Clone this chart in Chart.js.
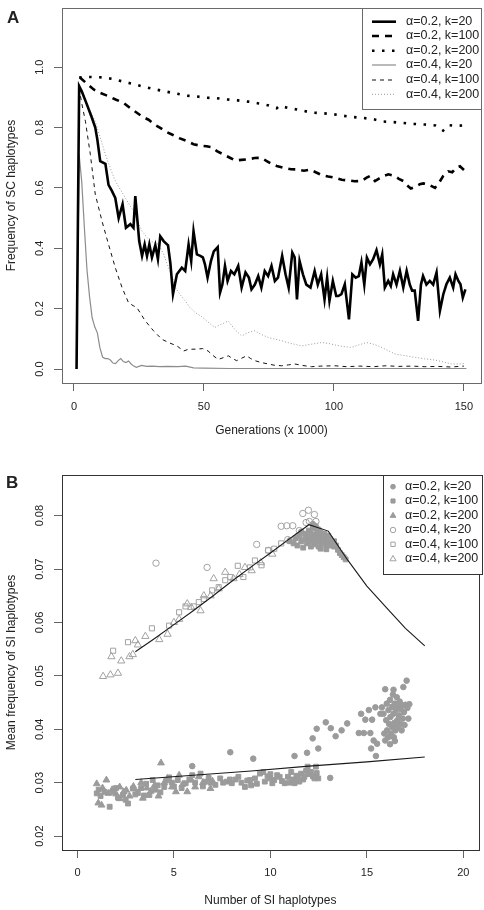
<!DOCTYPE html>
<html>
<head>
<meta charset="utf-8">
<script src="https://cdn.jsdelivr.net/npm/chart.js@4.4.1/dist/chart.umd.min.js"></script>
<style>
  body { margin: 0; background: #fff; }
  canvas { display: block; }
</style>
</head>
<body>
<canvas id="panelA" width="484" height="455"></canvas>
<canvas id="panelB" width="484" height="455"></canvas>
<script>
// ---- Panel A: frequency of SC haplotypes over generations (x 1000) ----
const gen02k20 = [1,2,3,5,7,8.2,9,10.1,12.1,13.3,14.6,15.9,17.2,18.7,20,21.7,22.9,23.6,25.1,26.2,27.2,28.1,29,30,31.3,32.3,33.2,34.5,36.2,37.1,38.1,39.6,41.5,42.8,44.1,45.1,46,47.3,48.6,49.6,50.4,51.4,52.7,53.8,55.3,56.2,57.1,58.1,59.1,60.4,61.7,63.2,64.5,66,67.3,68.3,69.6,70.9,72.1,73.4,74.7,76,77.3,78.5,80.1,81.4,82.6,84,84.9,85.8,86.8,88.1,89.4,91,92.6,93.8,95.1,96.4,97.4,98.3,99.6,100.9,101.7,102.9,104.2,105.8,107.1,108.4,109.6,110.6,111.7,112.7,113.9,115.1,116.4,117.7,118.6,119.6,120.9,121.9,122.8,124.1,125.4,126.7,128,129.2,130.1,131.1,132.4,133.5,134.3,135.6,136.9,138.2,139.5,140.8,142.1,143.3,144.6,145.9,146.8,147.9,148.7,149.6,150.6];
const freq02k20 = [0,0.937,0.92,0.876,0.83,0.80,0.76,0.689,0.68,0.61,0.59,0.567,0.50,0.546,0.468,0.48,0.468,0.573,0.424,0.375,0.413,0.375,0.413,0.37,0.41,0.364,0.44,0.424,0.41,0.35,0.248,0.314,0.336,0.325,0.413,0.358,0.457,0.38,0.375,0.37,0.347,0.303,0.358,0.39,0.404,0.253,0.28,0.342,0.292,0.325,0.314,0.342,0.27,0.32,0.303,0.264,0.28,0.308,0.27,0.325,0.308,0.342,0.292,0.303,0.375,0.314,0.27,0.386,0.37,0.231,0.358,0.314,0.28,0.27,0.325,0.28,0.314,0.231,0.303,0.226,0.292,0.242,0.242,0.248,0.281,0.165,0.314,0.303,0.308,0.353,0.28,0.369,0.347,0.364,0.394,0.347,0.38,0.27,0.292,0.275,0.314,0.28,0.325,0.27,0.325,0.28,0.26,0.26,0.16,0.28,0.308,0.28,0.292,0.28,0.32,0.193,0.248,0.281,0.303,0.27,0.314,0.292,0.281,0.237,0.264];

const gen02k100 = [2.3,5,7.6,10,13.3,16,19.1,22,24.2,26.5,28.7,31,33.2,35.5,37.7,40.5,43.5,46,48.5,51,53,55,57.5,60,62,64.5,67.1,69.5,72.1,74,76,78,80.6,83.5,86.3,88.5,90.8,93,95.3,97.8,100.4,103,105.5,108,110.6,112.6,114,115.8,117.5,119,121,123.5,125,126.7,128,129.6,131,133,134.4,136.5,138.9,140.5,142.1,144,145.5,147.2,148.5,150.2];
const freq02k100 = [0.966,0.945,0.926,0.915,0.904,0.893,0.882,0.862,0.849,0.835,0.826,0.81,0.799,0.786,0.777,0.765,0.755,0.745,0.740,0.738,0.735,0.722,0.711,0.700,0.691,0.693,0.695,0.699,0.700,0.690,0.680,0.673,0.667,0.662,0.661,0.657,0.661,0.652,0.643,0.638,0.634,0.627,0.625,0.622,0.623,0.634,0.640,0.623,0.632,0.639,0.645,0.639,0.630,0.623,0.610,0.598,0.603,0.612,0.615,0.611,0.600,0.618,0.640,0.655,0.652,0.668,0.672,0.658];

const gen02k200 = [2,5,8,11,15,19,23,27,31,35,39,43,47,51,55,59,63,67,71,75,78,79,83,87,91,95,99,103,107,111,115,119,123,127,131,135,139,142,144,147,150];
const freq02k200 = [0.966,0.968,0.967,0.966,0.961,0.952,0.944,0.935,0.927,0.920,0.913,0.906,0.903,0.899,0.897,0.893,0.890,0.886,0.880,0.873,0.864,0.872,0.864,0.858,0.850,0.848,0.845,0.840,0.835,0.832,0.828,0.820,0.818,0.815,0.812,0.810,0.807,0.790,0.808,0.806,0.807];

const gen04k20 = [1,2,3,4,5,6,7,8,9,10,11,12,13,14,15,16,17,18,19,20,21,22,23,24,26,28,30,33,36,40,43,46,50,60,80,100,151];
const freq04k20 = [0,0.71,0.62,0.47,0.33,0.24,0.17,0.14,0.12,0.07,0.04,0.035,0.035,0.03,0.02,0.018,0.028,0.035,0.025,0.022,0.027,0.017,0.01,0.006,0.012,0.009,0.01,0.008,0.009,0.008,0.01,0.004,0.003,0.002,0.002,0.002,0.002];

const gen04k100 = [2,3,4.4,6.3,8.2,10.8,13.3,15.9,18.5,21,22.8,24.2,27.4,30.6,33.8,36.4,39.6,42.2,44.1,47.3,49.5,51.6,53.5,55.5,57.5,59.4,61,62.6,64.5,66.4,68,69.6,72,74.7,77,79.9,82.5,85,88,91.4,95,100.4,105,110,115,120,125,130,135,140,145,150];
const freq04k100 = [0.93,0.88,0.821,0.711,0.579,0.49,0.413,0.336,0.27,0.22,0.21,0.204,0.16,0.127,0.099,0.088,0.077,0.060,0.066,0.066,0.068,0.06,0.045,0.032,0.038,0.044,0.035,0.028,0.036,0.044,0.035,0.028,0.022,0.017,0.013,0.011,0.014,0.017,0.012,0.008,0.01,0.011,0.008,0.01,0.008,0.011,0.009,0.01,0.008,0.009,0.007,0.01];

const gen04k200 = [2,4,6,8.2,10,12.1,14,15.9,17.8,19.7,21.3,22.9,24.5,26.2,28.7,30.5,32.6,34.5,36.4,38,39,41,42.8,44.5,46.7,49,51,54.2,56.5,59.4,62,64.5,67,69.6,72,74.7,77,79.9,83.5,87.6,91,95.3,98,100.4,103.5,106.8,109.5,112.6,115,117.1,120,123.5,127,131.2,135,138.9,142,145.3,149.2,150.5];
const freq04k200 = [0.93,0.9,0.86,0.821,0.77,0.711,0.665,0.623,0.595,0.568,0.545,0.524,0.49,0.457,0.43,0.42,0.413,0.38,0.336,0.30,0.27,0.245,0.226,0.205,0.187,0.175,0.16,0.138,0.148,0.159,0.13,0.11,0.121,0.127,0.115,0.105,0.10,0.094,0.085,0.077,0.082,0.088,0.085,0.08,0.075,0.072,0.08,0.088,0.083,0.077,0.065,0.05,0.045,0.039,0.034,0.03,0.024,0.017,0.017,0.02];

const xTicksA = [0, 50, 100, 150];
const xTickLabelsA = ['0', '50', '100', '150'];
const yTicksA = [0, 0.2, 0.4, 0.6, 0.8, 1.0];
const yTickLabelsA = ['0.0', '0.2', '0.4', '0.6', '0.8', '1.0'];

// ---- Panel B: mean frequency of SI haplotypes vs number of SI haplotypes ----
// [number of SI haplotypes, mean frequency]
const a02k20 = [[7.92,0.0357],[9.11,0.0345],[5.95,0.0331],[11.25,0.035],[11.9,0.0356],[12.19,0.0383],[12.4,0.0401],[12.48,0.0364],[12.87,0.0413],[13.13,0.0402],[13.1,0.0309],[13.38,0.0387],[13.69,0.0398],[13.98,0.0411],[14.58,0.0393],[14.7,0.0429],[14.92,0.0418],[14.84,0.0393],[15.1,0.0436],[15.18,0.0393],[15.27,0.0418],[15.35,0.0379],[15.22,0.0364],[15.44,0.0441],[15.47,0.035],[15.53,0.0373],[15.7,0.0429],[15.78,0.0441],[15.95,0.0475],
  [15.86,0.0429],[15.9,0.0392],[15.95,0.0379],[16.0,0.0417],[16.03,0.0448],[16.05,0.0398],[16.1,0.0385],[16.12,0.0436],[16.15,0.041],[16.2,0.0455],[16.22,0.0423],[16.25,0.0392],[16.3,0.0442],[16.32,0.0404],[16.35,0.0465],[16.38,0.0429],[16.38,0.0474],[16.4,0.0385],[16.42,0.0412],[16.45,0.0448],[16.48,0.0398],[16.5,0.0436],[16.55,0.046],[16.58,0.0417],[16.6,0.0404],[16.63,0.0442],[16.66,0.0426],[16.7,0.0452],[16.72,0.041],[16.75,0.0438],[16.8,0.0398],[16.82,0.0445],[16.86,0.042],[16.89,0.0479],[16.92,0.0432],[16.95,0.0408],[17.0,0.0446],[17.06,0.0491],[17.1,0.044],[17.15,0.042],[17.2,0.0447],[16.45,0.0378],[16.2,0.0372],
  [11.6,0.077],[12.2,0.0784],[12.35,0.078],[12.1,0.0766],[12.5,0.0774]];
const a02k100 = [[1.0,0.028],[1.1,0.0287],[1.2,0.0275],[1.4,0.0283],[1.67,0.0255],[1.85,0.0283],[2.0,0.029],[2.1,0.0272],[2.36,0.0277],[2.5,0.0268],[2.62,0.0261],[2.87,0.0289],[3.0,0.0278],[3.13,0.0283],[3.3,0.029],[3.45,0.0276],[3.56,0.0298],[3.73,0.0277],[3.9,0.0305],[4.0,0.029],[4.16,0.0295],[4.3,0.0282],[4.5,0.0292],[4.6,0.0304],[4.75,0.031],[4.9,0.03],[5.0,0.0293],[5.2,0.0305],[5.4,0.029],[5.61,0.0299],[5.8,0.0306],[5.95,0.0314],[6.1,0.03],[6.38,0.0317],[6.5,0.0293],[6.63,0.0302],[6.8,0.0309],[6.9,0.03],[7.15,0.0296],[7.4,0.0308],[7.55,0.03],[7.74,0.0302],[7.9,0.0306],[8.0,0.0299],[8.2,0.0306],[8.34,0.0311],[8.5,0.03],[8.68,0.0292],[8.8,0.0304],[8.94,0.0305],[9.0,0.0295],[9.2,0.0308],[9.3,0.0298],[9.46,0.0317],[9.63,0.032],[9.71,0.0302],[9.85,0.0312],[9.97,0.0308],[10.0,0.0316],[10.1,0.0299],[10.2,0.0305],[10.35,0.0314],[10.48,0.0311],[10.6,0.0303],[10.74,0.0299],[10.91,0.0311],[11.0,0.03],[11.08,0.032],[11.15,0.0306],[11.25,0.0299],[11.35,0.0313],[11.42,0.0308],[11.5,0.0302],[11.59,0.0317],[11.7,0.0306],[11.76,0.0311],[11.85,0.0322],[11.93,0.033],[12.0,0.0316],[12.1,0.032],[12.2,0.0312],[12.28,0.0308],[12.36,0.033],[12.4,0.0318],[12.48,0.0308],
  [11.0,0.0752],[11.2,0.0748],[11.3,0.0758],[11.4,0.0744],[11.5,0.0762],[11.6,0.0752],[11.7,0.074],[11.8,0.0766],[11.8,0.0756],[11.9,0.0748],[12.0,0.0772],[12.0,0.076],[12.1,0.0752],[12.1,0.0742],[12.2,0.0776],[12.2,0.0764],[12.3,0.0756],[12.3,0.0746],[12.4,0.077],[12.4,0.076],[12.5,0.0752],[12.5,0.0742],[12.6,0.0768],[12.6,0.0758],[12.6,0.0738],[12.7,0.0748],[12.7,0.0762],[12.8,0.0766],[12.8,0.0754],[12.9,0.0744],[12.9,0.076],[12.9,0.0737],[13.0,0.0762],[13.0,0.075],[13.1,0.0756],[13.1,0.0744],[13.2,0.075],[13.3,0.0742],[13.3,0.0752],[13.4,0.0744],[13.5,0.0736],[13.6,0.073],[13.7,0.0726],[13.8,0.0722],[13.9,0.0718]];
const a02k200 = [[1.0,0.0298],[1.08,0.0262],[1.25,0.0258],[1.3,0.029],[1.5,0.0305],[1.6,0.028],[1.8,0.0287],[2.0,0.0279],[2.19,0.0292],[2.2,0.027],[2.4,0.0283],[2.53,0.0286],[2.7,0.0275],[2.9,0.0293],[3.1,0.028],[3.3,0.03],[3.39,0.0271],[3.6,0.029],[3.8,0.0284],[4.0,0.0295],[4.07,0.0286],[4.2,0.0275],[4.33,0.0337],[4.5,0.03],[4.67,0.0308],[4.9,0.0292],[5.1,0.0283],[5.27,0.0314],[5.45,0.0297],[5.69,0.0283],[5.9,0.0305],[6.1,0.0292],[6.29,0.0311],[6.5,0.03],[6.89,0.0289],[7.0,0.0303]];
const a04k20 = [[4.07,0.0711],[6.72,0.0703],[9.29,0.0746],[9.9,0.0735],[10.56,0.078],[10.85,0.0781],[10.9,0.0755],[11.16,0.0781],[11.5,0.0772],[11.68,0.0804],[11.85,0.0787],[11.97,0.081],[12.02,0.0789],[12.28,0.0802],[12.36,0.0789]];
const a04k100 = [[1.85,0.0547],[2.62,0.0563],[3.86,0.0589],[4.75,0.0594],[5.27,0.0619],[5.6,0.063],[6.03,0.063],[6.29,0.0638],[6.55,0.0644],[6.98,0.066],[7.32,0.0666],[7.66,0.0679],[7.92,0.0685],[8.31,0.0706],[8.6,0.0685],[8.94,0.0703],[9.2,0.0716],[9.54,0.0707],[9.88,0.0735],[10.2,0.0738],[10.56,0.0748],[11.07,0.0754],[11.42,0.0761]];
const a04k200 = [[1.33,0.0499],[1.71,0.0502],[2.1,0.0505],[1.76,0.0536],[2.27,0.0528],[2.7,0.0536],[2.87,0.054],[3.0,0.0566],[3.13,0.0558],[3.52,0.0574],[4.24,0.0568],[4.67,0.0578],[5.0,0.06],[5.27,0.0606],[5.69,0.0635],[5.9,0.0628],[6.38,0.0622],[6.55,0.065],[6.9,0.065],[7.06,0.0682],[7.32,0.0663],[7.66,0.0694],[8.09,0.0682],[8.4,0.069],[8.68,0.0703],[9.03,0.0697],[9.5,0.0712],[10.1,0.0728]];
const fitUpX = [3,4,5,6,7,8,9,10,11,12,13,14,15,16,17,18];
const fitUpY = [0.0545,0.057,0.0596,0.0622,0.0649,0.0677,0.0704,0.073,0.0757,0.0783,0.0771,0.0717,0.0668,0.0628,0.0589,0.0556];
const fitLoX = [3,6,9,12,15,18];
const fitLoY = [0.0306,0.0314,0.0322,0.0331,0.0339,0.0348];

const xTicksB = [0, 5, 10, 15, 20];
const xTickLabelsB = ['0', '5', '10', '15', '20'];
const yTicksB = [0.02, 0.03, 0.04, 0.05, 0.06, 0.07, 0.08];
const yTickLabelsB = ['0.02', '0.03', '0.04', '0.05', '0.06', '0.07', '0.08'];

const FONT = '"Liberation Sans", Arial, Helvetica, sans-serif';
Chart.defaults.font.family = FONT;
Chart.defaults.color = '#222';

function pts(xs, ys) { return xs.map((x, i) => ({ x: x, y: ys[i] })); }
function pairs(list) { return list.map(p => ({ x: p[0], y: p[1] })); }

function lineSet(label, xs, ys, color, width, dash, order) {
    return { label: label, data: pts(xs, ys), showLine: true, borderColor: color, borderWidth: width,
             borderDash: dash, pointRadius: 0, fill: false, tension: 0, order: order };
}
function pointSet(label, list, style, radius, filled) {
    return { label: label, data: pairs(list), pointStyle: style, pointRadius: radius,
             pointBackgroundColor: filled ? '#9b9b9b' : 'rgba(255,255,255,0)',
             pointBorderColor: filled ? '#9b9b9b' : '#a2a2a2', pointBorderWidth: 1, order: 2 };
}

// R-like axis: ticks outside, labels set by hand, box drawn by the frame plugin
function axisX(min, max, ticks, labels, title, height, labelPad, titlePad) {
    return {
        type: 'linear', min: min, max: max,
        afterBuildTicks: s => { s.ticks = ticks.map(v => ({ value: v })); },
        afterFit: s => { s.height = height; },
        border: { display: false },
        grid: { drawOnChartArea: false, drawTicks: true, tickLength: 8, color: '#666' },
        ticks: { font: { size: 11 }, padding: labelPad, maxRotation: 0, callback: (v, i) => labels[i] },
        title: { display: true, text: title, font: { size: 12 }, padding: { top: 0, bottom: titlePad } }
    };
}
function axisY(min, max, ticks, title) {
    return {
        type: 'linear', min: min, max: max,
        afterBuildTicks: s => { s.ticks = ticks.map(v => ({ value: v })); },
        afterFit: s => { s.width = 62; },
        border: { display: false },
        grid: { drawOnChartArea: false, drawTicks: true, tickLength: 8, color: '#666' },
        ticks: { display: false },
        title: { display: true, text: title, font: { size: 12 }, padding: { top: 4.8, bottom: 0 } }
    };
}

function framePlugin(cfg) {
    return {
        id: 'frame' + cfg.letter,
        afterDraw(chart) {
            const ctx = chart.ctx, a = chart.chartArea;
            ctx.save();
            ctx.strokeStyle = cfg.boxColor;
            ctx.lineWidth = 1;
            ctx.strokeRect(Math.round(a.left) + 0.5, Math.round(a.top) + 0.5,
                           Math.round(a.right - a.left), Math.round(a.bottom - a.top));

            // y tick labels, parallel to the axis as R draws them
            const ys = chart.scales.y;
            ctx.fillStyle = '#222';
            ctx.font = '11px ' + FONT;
            ctx.textAlign = 'center';
            ctx.textBaseline = 'middle';
            cfg.yTicks.forEach((v, i) => {
                ctx.save();
                ctx.translate(40, ys.getPixelForValue(v));
                ctx.rotate(-Math.PI / 2);
                ctx.fillText(cfg.yLabels[i], 0, 0);
                ctx.restore();
            });

            ctx.font = 'bold 17px ' + FONT;
            ctx.textAlign = 'left';
            ctx.textBaseline = 'alphabetic';
            ctx.fillText(cfg.letter, cfg.letterX, cfg.letterY);

            // legend box
            const L = cfg.legend;
            ctx.fillStyle = '#fff';
            ctx.fillRect(L.x, L.y, L.w, L.h);
            ctx.strokeStyle = cfg.boxColor;
            ctx.setLineDash([]);
            ctx.strokeRect(L.x + 0.5, L.y + 0.5, L.w, L.h);
            const sets = chart.data.datasets.filter(d => !d.noLegend);
            sets.forEach((d, i) => {
                const y = L.rows[i];
                if (d.showLine) {
                    ctx.strokeStyle = d.borderColor;
                    ctx.lineWidth = d.borderWidth;
                    ctx.setLineDash(d.borderDash || []);
                    ctx.beginPath();
                    ctx.moveTo(L.x + 10, y);
                    ctx.lineTo(L.x + 34, y);
                    ctx.stroke();
                    ctx.setLineDash([]);
                } else {
                    ctx.fillStyle = d.pointBackgroundColor;
                    ctx.strokeStyle = d.pointBorderColor;
                    ctx.lineWidth = 1;
                    Chart.helpers.drawPoint(ctx, { pointStyle: d.pointStyle, rotation: 0,
                        radius: d.pointRadius * 0.85, borderWidth: 1 }, L.markX, y);
                }
                ctx.fillStyle = '#222';
                ctx.font = '12.5px ' + FONT;
                ctx.textBaseline = 'middle';
                ctx.fillText(d.label, L.textX, y);
            });
            ctx.restore();
        }
    };
}

new Chart(document.getElementById('panelA'), {
    type: 'scatter',
    data: {
        datasets: [
            lineSet('\u03b1=0.2, k=20', gen02k20, freq02k20, '#000', 2.6, [], 0),
            lineSet('\u03b1=0.2, k=100', gen02k100, freq02k100, '#000', 2.6, [7, 6], 1),
            lineSet('\u03b1=0.2, k=200', gen02k200, freq02k200, '#000', 2.6, [2.5, 7.5], 2),
            lineSet('\u03b1=0.4, k=20', gen04k20, freq04k20, '#8c8c8c', 1.2, [], 3),
            lineSet('\u03b1=0.4, k=100', gen04k100, freq04k100, '#111', 1, [4, 4], 4),
            lineSet('\u03b1=0.4, k=200', gen04k200, freq04k200, '#9a9a9a', 1, [1, 2], 5)
        ]
    },
    options: {
        responsive: false,
        animation: false,
        devicePixelRatio: 1,
        layout: { padding: { left: 0, right: 3, top: 8, bottom: 0 } },
        plugins: { legend: { display: false }, tooltip: { enabled: false } },
        scales: {
            x: axisX(-4.6, 156.6, xTicksA, xTickLabelsA, 'Generations (x 1000)', 72, 9, 17),
            y: axisY(-0.046, 1.196, yTicksA, 'Frequency of SC haplotypes')
        }
    },
    plugins: [framePlugin({
        letter: 'A', letterX: 7, letterY: 23, boxColor: '#6a6a6a',
        yTicks: yTicksA, yLabels: yTickLabelsA,
        legend: { x: 362, y: 8, w: 119, h: 101, markX: 0, textX: 406,
                  rows: [21.7, 36, 50.7, 65, 80, 94.3] }
    })]
});

new Chart(document.getElementById('panelB'), {
    type: 'scatter',
    data: {
        datasets: [
            pointSet('\u03b1=0.2, k=20', a02k20, 'circle', 2.8, true),
            pointSet('\u03b1=0.2, k=100', a02k100, 'rect', 3.4, true),
            pointSet('\u03b1=0.2, k=200', a02k200, 'triangle', 3.9, true),
            pointSet('\u03b1=0.4, k=20', a04k20, 'circle', 3.2, false),
            pointSet('\u03b1=0.4, k=100', a04k100, 'rect', 3.6, false),
            pointSet('\u03b1=0.4, k=200', a04k200, 'triangle', 4.2, false),
            Object.assign(lineSet('fit high', fitUpX, fitUpY, '#1a1a1a', 1.1, [], 0), { noLegend: true }),
            Object.assign(lineSet('fit low', fitLoX, fitLoY, '#1a1a1a', 1.1, [], 0), { noLegend: true })
        ]
    },
    options: {
        responsive: false,
        animation: false,
        devicePixelRatio: 1,
        layout: { padding: { left: 0, right: 2, top: 20, bottom: 0 } },
        plugins: { legend: { display: false }, tooltip: { enabled: false } },
        scales: {
            x: axisX(-0.8, 20.8, xTicksB, xTickLabelsB, 'Number of SI haplotypes', 60, 8, 2),
            y: axisY(0.0174, 0.0876, yTicksB, 'Mean frequency of SI haplotypes')
        }
    },
    plugins: [framePlugin({
        letter: 'B', letterX: 6, letterY: 33, boxColor: '#333',
        yTicks: yTicksB, yLabels: yTickLabelsB,
        legend: { x: 383, y: 20, w: 99, h: 99, markX: 393, textX: 405,
                  rows: [31.7, 46, 60.7, 75, 89.3, 104] }
    })]
});
</script>
</body>
</html>
